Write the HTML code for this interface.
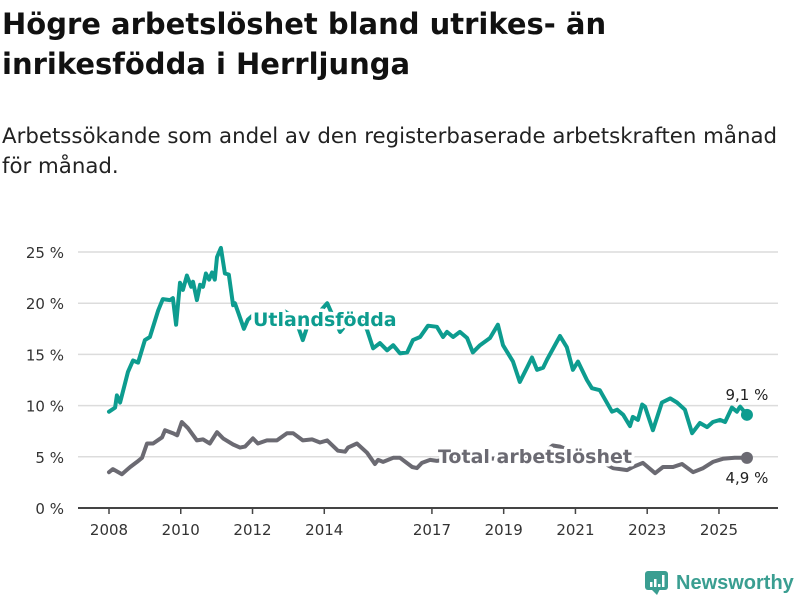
<!DOCTYPE html>
<html><head><meta charset="utf-8">
<style>
body{margin:0;width:800px;height:600px;background:#fff;overflow:hidden;font-family:"Liberation Sans","DejaVu Sans",sans-serif}
svg{position:absolute;left:0;top:0}
</style></head>
<body>
<svg width="800" height="600" id="svg">
<text x="2" y="34" font-family="DejaVu Sans, sans-serif" font-weight="bold" font-size="29" fill="#111">Högre arbetslöshet bland utrikes- än</text>
<text x="2" y="74" font-family="DejaVu Sans, sans-serif" font-weight="bold" font-size="29" fill="#111">inrikesfödda i Herrljunga</text>
<text x="2" y="143" font-family="DejaVu Sans, sans-serif" font-size="21.3" fill="#222">Arbetssökande som andel av den registerbaserade arbetskraften månad</text>
<text x="2" y="173" font-family="DejaVu Sans, sans-serif" font-size="21.3" fill="#222">för månad.</text>
<g id="grid"></g><g id="lines"></g><g id="labels"></g>
<g>
<rect x="645" y="571" width="23" height="19" rx="3" fill="#3a9e91"/>
<path d="M651 589 L657 595 L660 589Z" fill="#3a9e91"/>
<rect x="650" y="582" width="2.5" height="5" fill="#fff"/><rect x="654" y="579" width="2.5" height="8" fill="#fff"/><rect x="658" y="584" width="2.5" height="3" fill="#fff"/><rect x="662" y="575" width="2.5" height="12" fill="#fff"/>
<text x="676" y="589" font-family="Liberation Sans, sans-serif" font-weight="bold" font-size="20" fill="#3a9e91">Newsworthy</text>
</g>
</svg>
<script>
const yTicks=[0,5,10,15,20,25];
const xTicks=[2008,2010,2012,2014,2017,2019,2021,2023,2025];
const foreignT=[2008.0,2008.17,2008.22,2008.31,2008.53,2008.67,2008.81,2009.0,2009.14,2009.37,2009.5,2009.7,2009.78,2009.87,2009.98,2010.06,2010.17,2010.29,2010.34,2010.45,2010.54,2010.62,2010.7,2010.79,2010.87,2010.95,2011.01,2011.12,2011.23,2011.34,2011.46,2011.51,2011.6,2011.76,2011.87,2012.07,2012.35,2012.63,2012.9,2013.18,2013.4,2013.6,2013.83,2014.08,2014.27,2014.44,2014.72,2015.0,2015.19,2015.36,2015.55,2015.75,2015.92,2016.11,2016.31,2016.47,2016.67,2016.89,2017.14,2017.31,2017.42,2017.59,2017.78,2017.98,2018.14,2018.34,2018.62,2018.84,2018.98,2019.26,2019.45,2019.65,2019.79,2019.93,2020.1,2020.21,2020.57,2020.76,2020.93,2021.07,2021.32,2021.46,2021.68,2022.02,2022.16,2022.33,2022.52,2022.6,2022.74,2022.86,2022.94,2023.16,2023.41,2023.64,2023.83,2024.05,2024.25,2024.47,2024.67,2024.83,2025.03,2025.17,2025.36,2025.5,2025.59,2025.78];
const foreignV=[9.4,9.8,11.0,10.3,13.3,14.4,14.2,16.4,16.7,19.3,20.4,20.3,20.5,17.9,22.0,21.3,22.7,21.6,22.1,20.3,21.8,21.6,22.9,22.3,23.0,22.3,24.5,25.4,22.9,22.8,19.8,20.0,19.1,17.5,18.4,19.0,18.8,19.0,19.2,18.6,16.4,18.5,19.0,20.0,18.5,17.2,18.4,18.6,17.4,15.6,16.1,15.4,15.9,15.1,15.2,16.4,16.7,17.8,17.7,16.7,17.2,16.7,17.2,16.6,15.2,15.9,16.6,17.9,15.9,14.3,12.3,13.7,14.7,13.5,13.7,14.5,16.8,15.7,13.5,14.3,12.5,11.7,11.5,9.4,9.6,9.1,8.0,8.9,8.6,10.1,9.9,7.6,10.3,10.7,10.3,9.6,7.3,8.3,7.9,8.4,8.6,8.4,9.8,9.4,9.9,9.1];
const totalT=[2008.0,2008.11,2008.36,2008.59,2008.78,2008.92,2009.06,2009.23,2009.48,2009.56,2009.78,2009.9,2010.03,2010.2,2010.45,2010.62,2010.81,2011.01,2011.18,2011.46,2011.65,2011.79,2012.01,2012.15,2012.4,2012.68,2012.96,2013.13,2013.4,2013.66,2013.88,2014.08,2014.38,2014.58,2014.66,2014.91,2015.19,2015.41,2015.5,2015.64,2015.92,2016.11,2016.45,2016.58,2016.72,2016.95,2017.14,2017.5,2018.06,2018.62,2019.18,2019.73,2020.15,2020.37,2020.57,2020.99,2021.4,2021.68,2022.05,2022.44,2022.6,2022.88,2023.22,2023.44,2023.72,2023.97,2024.28,2024.56,2024.83,2025.11,2025.44,2025.78];
const totalV=[3.5,3.8,3.3,4.0,4.5,4.9,6.3,6.3,6.9,7.6,7.3,7.1,8.4,7.8,6.6,6.7,6.3,7.4,6.8,6.2,5.9,6.0,6.8,6.3,6.6,6.6,7.3,7.3,6.6,6.7,6.4,6.6,5.6,5.5,5.9,6.3,5.4,4.3,4.7,4.5,4.9,4.9,4.0,3.9,4.4,4.7,4.6,4.8,4.9,4.8,4.9,5.0,5.5,6.1,6.0,5.4,5.0,4.6,3.9,3.7,4.0,4.4,3.4,4.0,4.0,4.3,3.5,3.9,4.5,4.8,4.9,4.9];
const X=t=>109+(t-2008)*35.88, Y=v=>508-v*10.24;
const NS='http://www.w3.org/2000/svg';
function mk(tag,attrs,parent){const e=document.createElementNS(NS,tag);for(const k in attrs)e.setAttribute(k,attrs[k]);document.getElementById(parent).appendChild(e);return e;}
yTicks.forEach(v=>{
  if(v>0){const g=mk('line',{x1:78,x2:778,y1:Y(v),y2:Y(v),stroke:'#dcdcdc','stroke-width':1.5},'grid');
  
  }
  const t=mk('text',{x:64,y:Y(v)+6,'text-anchor':'end','font-size':15,fill:'#333','font-family':'DejaVu Sans, sans-serif'},'grid');t.textContent=v+' %';
  
  
});
const ax=mk('line',{x1:78,x2:778,y1:508,y2:508,stroke:'#444','stroke-width':2},'grid');


xTicks.forEach(y=>{
  const tk=mk('line',{x1:X(y),x2:X(y),y1:508,y2:514,stroke:'#444','stroke-width':1.5},'grid');
  
  
  const t=mk('text',{x:X(y),y:535,'text-anchor':'middle','font-size':15,fill:'#333','font-family':'DejaVu Sans, sans-serif'},'grid');t.textContent=y;
  
  
});
function line(T,V,color,name){
  const d=T.map((t,i)=>(i?'L':'M')+X(t).toFixed(1)+' '+Y(V[i]).toFixed(1)).join(' ');
  const p=mk('path',{d:d,fill:'none',stroke:color,'stroke-width':4,'stroke-linejoin':'round','stroke-linecap':'round'},'lines');
  
  
  const n=T.length-1;
  const c=mk('circle',{cx:X(T[n]),cy:Y(V[n]),r:6,fill:color},'lines');
  
  
  return [X(T[n]),Y(V[n])];
}
const ft=line(totalT,totalV,'#6b6a72','total-line');
const ff=line(foreignT,foreignV,'#0d9c8f','foreign-line');
function lab(x,y,txt,color,size,bold,name,anchor){
  const t=mk('text',{x:x,y:y,'font-size':size,fill:color,'font-weight':bold?'bold':'normal','font-family':'DejaVu Sans, sans-serif',stroke:'#fff','stroke-width':7,'paint-order':'stroke','stroke-linejoin':'round','text-anchor':anchor||'start'},'labels');
  t.textContent=txt;
  
  
}
lab(253,326,'Utlandsfödda','#0d9c8f',19,true,'foreign-series-label');
lab(438,463,'Total arbetslöshet','#6b6a72',19,true,'total-series-label');
lab(ff[0],ff[1]-15,foreignV[foreignV.length-1].toString().replace('.',',')+' %','#222',15,false,'foreign-end-value','middle');
lab(ft[0],ft[1]+25,totalV[totalV.length-1].toString().replace('.',',')+' %','#222',15,false,'total-end-value','middle');
</script>
</body></html>
